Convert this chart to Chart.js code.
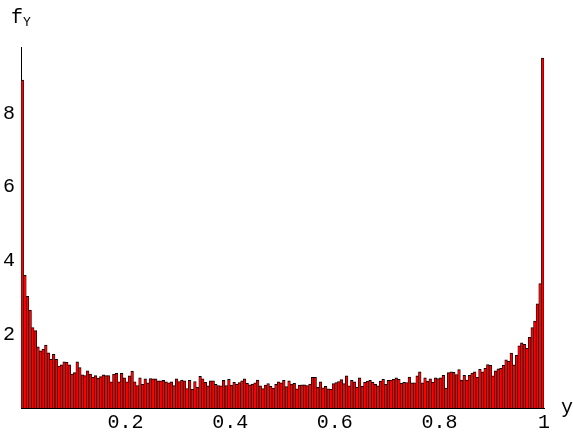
<!DOCTYPE html>
<html lang="en">

<head>
  <meta charset="UTF-8">
  <title>Histograma f_Y</title>
  <script src="https://cdn.jsdelivr.net/npm/chart.js"></script>
  <style>
    body {
      margin: 0;
      background: #fff;
    }

    .quadro {
      position: relative;
      width: 573px;
      height: 432px;
    }

    .rotulo {
      position: absolute;
      font-family: "Liberation Mono", monospace;
      color: #000;
      line-height: 1;
    }

    #rotulo_fy {
      left: 11px;
      top: 8px;
      font-size: 20px;
    }

    #rotulo_fy sub {
      font-size: 13px;
      vertical-align: -3px;
    }

    #rotulo_y {
      left: 561px;
      top: 398px;
      font-size: 20px;
    }
  </style>
</head>

<body>
  <div class="quadro">
    <canvas id="chartHistograma"></canvas>
    <div id="rotulo_fy" class="rotulo">f<sub>Y</sub></div>
    <div id="rotulo_y" class="rotulo">y</div>
  </div>

  <script>
    // 200 classes entre 0 e 1 (altura de cada barra)
    var alturas = [
      8.9, 3.6, 3.03, 2.66, 2.18, 2.1, 1.66, 1.55, 1.59, 1.71,
      1.5, 1.32, 1.46, 1.32, 1.14, 1.17, 1.25, 1.24, 1.17, 0.92,
      0.96, 1.25, 1.1, 0.9, 0.88, 1.01, 0.92, 0.83, 0.88, 0.81,
      0.85, 0.9, 0.88, 0.88, 0.71, 0.92, 0.94, 0.71, 0.94, 0.82,
      0.71, 0.87, 1.0, 0.71, 0.61, 0.82, 0.64, 0.79, 0.68, 0.8,
      0.79, 0.79, 0.74, 0.74, 0.75, 0.71, 0.68, 0.71, 0.61, 0.79,
      0.72, 0.76, 0.74, 0.53, 0.75, 0.51, 0.72, 0.56, 0.86, 0.79,
      0.7, 0.6, 0.74, 0.74, 0.64, 0.61, 0.6, 0.75, 0.61, 0.78,
      0.62, 0.7, 0.64, 0.69, 0.74, 0.79, 0.67, 0.63, 0.65, 0.68,
      0.76, 0.6, 0.53, 0.62, 0.66, 0.59, 0.54, 0.64, 0.71, 0.68,
      0.75, 0.58, 0.74, 0.65, 0.67, 0.52, 0.62, 0.63, 0.63, 0.61,
      0.65, 0.83, 0.83, 0.56, 0.71, 0.55, 0.59, 0.52, 0.51, 0.66,
      0.69, 0.72, 0.77, 0.66, 0.87, 0.6, 0.75, 0.71, 0.56, 0.82,
      0.59, 0.7, 0.73, 0.75, 0.7, 0.64, 0.6, 0.73, 0.78, 0.64,
      0.75, 0.76, 0.78, 0.82, 0.78, 0.67, 0.7, 0.69, 0.84, 0.68,
      0.68, 0.87, 0.98, 0.68, 0.82, 0.73, 0.79, 0.7, 0.82, 0.8,
      0.82, 0.89, 0.54, 0.96, 0.98, 0.97, 0.91, 1.04, 0.76, 0.89,
      0.76, 0.89, 0.95, 0.98, 0.83, 1.05, 0.98, 1.08, 1.18, 1.16,
      0.87, 1.01, 1.06, 1.08, 1.16, 1.31, 1.27, 1.49, 1.17, 1.43,
      1.69, 1.77, 1.73, 1.62, 1.92, 2.18, 2.36, 2.83, 3.38, 9.5
    ];
    var ticksX = [0.2, 0.4, 0.6, 0.8, 1];
    var ticksY = [2, 4, 6, 8];

    var larguraClasse = 1 / alturas.length;
    var pontos = [];
    for (var i = 0; i < alturas.length; i++) {
      pontos.push({ x: (i + 0.5) * larguraClasse, y: alturas[i] });
    }

    var fonteEixo = {
      family: "Liberation Mono",
      size: 20
    };

    var canva_histograma = document.getElementById("chartHistograma");
    var grafico_histograma = new Chart(canva_histograma, {
      type: 'bar',
      data: {
        datasets: [{
          data: pontos,
          backgroundColor: 'rgb(255, 0, 0)',
          borderColor: 'rgb(0, 0, 0)',
          borderWidth: { top: 1, left: 0.7, right: 0.7, bottom: 0 },
          barPercentage: 1,
          categoryPercentage: 1
        }]
      },
      options: {
        responsive: true,
        maintainAspectRatio: false,
        animation: false,
        layout: {
          padding: { top: 47, right: 29, left: 0, bottom: 0 }
        },
        plugins: {
          legend: { display: false },
          tooltip: { enabled: false }
        },
        scales: {
          x: {
            type: 'linear',
            min: 0,
            max: 1,
            offset: false,
            afterBuildTicks: function (eixo) {
              eixo.ticks = ticksX.map(function (v) { return { value: v }; });
            },
            afterFit: function (eixo) { eixo.height = 24; },
            ticks: {
              autoSkip: false,
              maxRotation: 0,
              padding: 3,
              color: '#000',
              font: fonteEixo,
              callback: function (v) { return String(v); }
            },
            grid: {
              offset: false,
              drawOnChartArea: false,
              drawTicks: false
            },
            border: { color: '#000', width: 1 }
          },
          y: {
            min: 0,
            max: 9.8,
            afterBuildTicks: function (eixo) {
              eixo.ticks = ticksY.map(function (v) { return { value: v }; });
            },
            afterFit: function (eixo) { eixo.width = 21; },
            ticks: {
              autoSkip: false,
              padding: 6,
              color: '#000',
              font: fonteEixo
            },
            grid: {
              drawOnChartArea: false,
              drawTicks: false
            },
            border: { color: '#000', width: 1 }
          }
        }
      }
    });
  </script>
</body>

</html>
